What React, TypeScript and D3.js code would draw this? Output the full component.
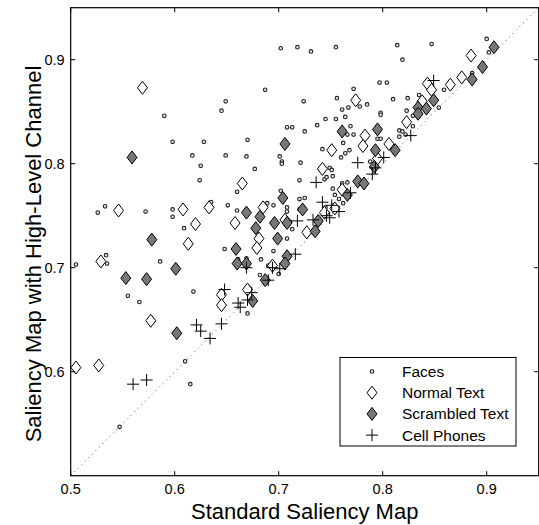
import * as d3 from 'd3';
import React, {useEffect, useRef} from 'react';

// values (standard map score, high-level map score)
const faces: number[][] = [
  [0.702, 0.911], [0.718, 0.912], [0.687, 0.871], [0.649, 0.860], [0.645, 0.851],
  [0.590, 0.846], [0.708, 0.835], [0.713, 0.835], [0.598, 0.821], [0.628, 0.821],
  [0.670, 0.823], [0.617, 0.808], [0.649, 0.808], [0.669, 0.807], [0.701, 0.807],
  [0.703, 0.802], [0.703, 0.800], [0.625, 0.798], [0.677, 0.795], [0.624, 0.784],
  [0.720, 0.784], [0.660, 0.773], [0.702, 0.774], [0.526, 0.753], [0.533, 0.759],
  [0.572, 0.754], [0.598, 0.756], [0.598, 0.749], [0.609, 0.738], [0.635, 0.763],
  [0.651, 0.760], [0.660, 0.755], [0.689, 0.762], [0.695, 0.760], [0.708, 0.758],
  [0.708, 0.754], [0.720, 0.766], [0.720, 0.756], [0.648, 0.718], [0.661, 0.708],
  [0.669, 0.709], [0.695, 0.716], [0.708, 0.728], [0.713, 0.737], [0.534, 0.712],
  [0.731, 0.908], [0.755, 0.912], [0.814, 0.914], [0.819, 0.900], [0.847, 0.915],
  [0.900, 0.920], [0.797, 0.878], [0.804, 0.878], [0.772, 0.872], [0.724, 0.860],
  [0.756, 0.863], [0.778, 0.855], [0.785, 0.857], [0.810, 0.862], [0.824, 0.863],
  [0.761, 0.852], [0.767, 0.854], [0.798, 0.849], [0.798, 0.847], [0.823, 0.851],
  [0.835, 0.866], [0.859, 0.871], [0.902, 0.907], [0.886, 0.887], [0.745, 0.843],
  [0.755, 0.843], [0.764, 0.845], [0.737, 0.837], [0.725, 0.831], [0.769, 0.836],
  [0.766, 0.828], [0.772, 0.828], [0.795, 0.824], [0.798, 0.824], [0.816, 0.832],
  [0.819, 0.831], [0.816, 0.826], [0.822, 0.828], [0.829, 0.836], [0.762, 0.820],
  [0.764, 0.810], [0.768, 0.813], [0.742, 0.814], [0.760, 0.806], [0.721, 0.801],
  [0.749, 0.796], [0.751, 0.794], [0.752, 0.788], [0.744, 0.785], [0.746, 0.787],
  [0.761, 0.781], [0.766, 0.782], [0.752, 0.776], [0.754, 0.770], [0.725, 0.767],
  [0.788, 0.802], [0.854, 0.854], [0.683, 0.708], [0.586, 0.706], [0.505, 0.703],
  [0.535, 0.704], [0.555, 0.673], [0.566, 0.667], [0.610, 0.610], [0.618, 0.677],
  [0.615, 0.588], [0.547, 0.547], [0.670, 0.656], [0.682, 0.693], [0.700, 0.694],
  [0.690, 0.702], [0.758, 0.766], [0.762, 0.762], [0.711, 0.744], [0.745, 0.758],
  [0.753, 0.760], [0.829, 0.846]
];

const normalText: number[][] = [
  [0.569, 0.873], [0.665, 0.781], [0.546, 0.755], [0.608, 0.756], [0.633, 0.758],
  [0.620, 0.742], [0.658, 0.743], [0.613, 0.723], [0.685, 0.758], [0.681, 0.728],
  [0.679, 0.719], [0.706, 0.746], [0.529, 0.706], [0.774, 0.861], [0.751, 0.813],
  [0.742, 0.795], [0.783, 0.827], [0.781, 0.817], [0.806, 0.819], [0.823, 0.840],
  [0.838, 0.860], [0.843, 0.877], [0.847, 0.871], [0.865, 0.876], [0.876, 0.883],
  [0.885, 0.904], [0.795, 0.805], [0.761, 0.775], [0.744, 0.753], [0.727, 0.734],
  [0.754, 0.757], [0.505, 0.604], [0.527, 0.606], [0.577, 0.649], [0.645, 0.674],
  [0.645, 0.664], [0.670, 0.679], [0.694, 0.702]
];

const scrambledText: number[][] = [
  [0.559, 0.806], [0.706, 0.819], [0.578, 0.727], [0.669, 0.753], [0.682, 0.749],
  [0.678, 0.738], [0.696, 0.743], [0.708, 0.743], [0.699, 0.728], [0.704, 0.767],
  [0.659, 0.718], [0.708, 0.711], [0.761, 0.831], [0.795, 0.833], [0.793, 0.813],
  [0.812, 0.813], [0.792, 0.797], [0.776, 0.783], [0.782, 0.781], [0.766, 0.770],
  [0.723, 0.756], [0.738, 0.745], [0.735, 0.735], [0.834, 0.854], [0.834, 0.848],
  [0.842, 0.853], [0.849, 0.861], [0.886, 0.881], [0.896, 0.893], [0.907, 0.912],
  [0.553, 0.690], [0.573, 0.689], [0.601, 0.699], [0.602, 0.637], [0.660, 0.704],
  [0.669, 0.704], [0.675, 0.668], [0.687, 0.688], [0.706, 0.704]
];

const cellPhones: number[][] = [
  [0.776, 0.801], [0.736, 0.782], [0.742, 0.763], [0.751, 0.760], [0.758, 0.754],
  [0.749, 0.748], [0.746, 0.750], [0.733, 0.746], [0.718, 0.745], [0.716, 0.713],
  [0.769, 0.772], [0.790, 0.790], [0.793, 0.796], [0.801, 0.806], [0.827, 0.827],
  [0.849, 0.880], [0.648, 0.679], [0.661, 0.666], [0.663, 0.662], [0.670, 0.669],
  [0.645, 0.646], [0.621, 0.645], [0.625, 0.639], [0.634, 0.632], [0.694, 0.700],
  [0.690, 0.688], [0.669, 0.700], [0.560, 0.588], [0.573, 0.592], [0.674, 0.676],
  [0.701, 0.699]
];

const xTicks = [0.5, 0.6, 0.7, 0.8, 0.9];
const yTicks = [0.6, 0.7, 0.8, 0.9];
const legendLabels = ['Faces', 'Normal Text', 'Scrambled Text', 'Cell Phones'];

const FONT = '"Liberation Sans", Arial, sans-serif';
const diamond = 'M0,-6.5L5,0L0,6.5L-5,0Z';
const plus = 'M-6,0H6M0,-6V6';

function App() {
  const ref = useRef<SVGSVGElement>(null);

  useEffect(() => {
    const svg = d3.select(ref.current);
    svg.selectAll('*').remove();

    const x = d3.scaleLinear().domain([0.5, 0.95]).range([70.7, 538.7]);
    const y = d3.scaleLinear().domain([0.5, 0.95]).range([475.7, 7.7]);
    const [x0, x1] = x.range();
    const [y0, y1] = y.range();

    // diagonal reference
    svg.append('line')
        .attr('x1', x(0.5)).attr('y1', y(0.5))
        .attr('x2', x(0.95)).attr('y2', y(0.95))
        .attr('stroke', '#3a3aff')
        .attr('stroke-width', 1)
        .attr('stroke-dasharray', '1 4');

    const g = svg.append('g');

    g.selectAll('circle.face').data(faces).enter().append('circle')
        .attr('class', 'face')
        .attr('cx', d => x(d[0])).attr('cy', d => y(d[1]))
        .attr('r', 1.8)
        .attr('fill', '#e6e6e6').attr('stroke', '#222').attr('stroke-width', 1.1);

    g.selectAll('path.normal').data(normalText).enter().append('path')
        .attr('class', 'normal')
        .attr('d', diamond)
        .attr('transform', d => `translate(${x(d[0])},${y(d[1])})`)
        .attr('fill', '#fff').attr('stroke', '#000').attr('stroke-width', 1);

    g.selectAll('path.scr').data(scrambledText).enter().append('path')
        .attr('class', 'scr')
        .attr('d', diamond)
        .attr('transform', d => `translate(${x(d[0])},${y(d[1])})`)
        .attr('fill', '#777').attr('stroke', '#000').attr('stroke-width', 1);

    g.selectAll('path.phone').data(cellPhones).enter().append('path')
        .attr('class', 'phone')
        .attr('d', plus)
        .attr('transform', d => `translate(${x(d[0])},${y(d[1])})`)
        .attr('fill', 'none').attr('stroke', '#000').attr('stroke-width', 1);

    // box and inward ticks
    svg.append('rect')
        .attr('x', x0).attr('y', y1)
        .attr('width', x1 - x0).attr('height', y0 - y1)
        .attr('fill', 'none').attr('stroke', '#000').attr('stroke-width', 1.2);

    const tl = 4.5;
    xTicks.forEach(t => {
      svg.append('line').attr('x1', x(t)).attr('x2', x(t))
          .attr('y1', y0).attr('y2', y0 - tl).attr('stroke', '#000');
      svg.append('line').attr('x1', x(t)).attr('x2', x(t))
          .attr('y1', y1).attr('y2', y1 + tl).attr('stroke', '#000');
      svg.append('text').attr('x', x(t)).attr('y', 494)
          .attr('text-anchor', 'middle')
          .attr('font-family', FONT).attr('font-size', 14.5)
          .text(t.toFixed(1));
    });
    yTicks.forEach(t => {
      svg.append('line').attr('x1', x0).attr('x2', x0 + tl)
          .attr('y1', y(t)).attr('y2', y(t)).attr('stroke', '#000');
      svg.append('line').attr('x1', x1).attr('x2', x1 - tl)
          .attr('y1', y(t)).attr('y2', y(t)).attr('stroke', '#000');
      svg.append('text').attr('x', x0 - 6).attr('y', y(t) + 5)
          .attr('text-anchor', 'end')
          .attr('font-family', FONT).attr('font-size', 14.5)
          .text(t.toFixed(1));
    });

    svg.append('text')
        .attr('x', (x0 + x1) / 2).attr('y', 519)
        .attr('text-anchor', 'middle')
        .attr('font-family', FONT).attr('font-size', 22)
        .text('Standard Saliency Map');

    svg.append('text')
        .attr('transform', `translate(41,254) rotate(-90)`)
        .attr('text-anchor', 'middle')
        .attr('font-family', FONT).attr('font-size', 22)
        .text('Saliency Map with High-Level Channel');

    // legend
    const lg = svg.append('g');
    lg.append('rect')
        .attr('x', 340).attr('y', 357.5).attr('width', 176).attr('height', 88.5)
        .attr('fill', '#fff').attr('stroke', '#000').attr('stroke-width', 1);
    legendLabels.forEach((lab, i) => {
      const cy = 371.5 + i * 21.2;
      if (i === 0) {
        lg.append('circle').attr('cx', 372).attr('cy', cy).attr('r', 1.8)
            .attr('fill', '#e6e6e6').attr('stroke', '#222').attr('stroke-width', 1.1);
      } else {
        lg.append('path')
            .attr('d', i === 3 ? plus : diamond)
            .attr('transform', `translate(372,${cy})`)
            .attr('fill', i === 1 ? '#fff' : i === 2 ? '#777' : 'none')
            .attr('stroke', '#000');
      }
      lg.append('text').attr('x', 402).attr('y', cy + 5.5)
          .attr('font-family', FONT).attr('font-size', 15.5)
          .text(lab);
    });
  }, []);

  return (
    <svg ref={ref} width={539} height={525}
         style={{position: 'absolute', left: 0, top: 0, background: '#fff'}} />
  );
}

export default App;
